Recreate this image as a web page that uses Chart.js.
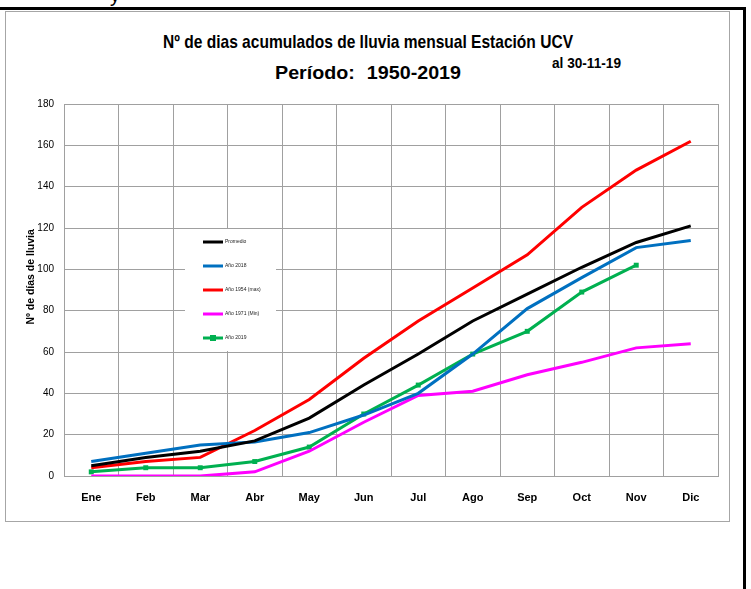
<!DOCTYPE html>
<html>
<head>
<meta charset="utf-8">
<script src="https://cdn.jsdelivr.net/npm/chart.js@4.4.1/dist/chart.umd.min.js"></script>
<style>
  html,body{margin:0;padding:0;background:#fff;}
  #wrap{position:relative;width:751px;height:589px;overflow:hidden;background:#fff;}
  #frame{position:absolute;left:5px;top:11px;width:723px;height:509px;border:1px solid #a6a6a6;}
  #topline{position:absolute;left:0;top:7px;width:746px;height:3px;background:#000;}
  #rightline{position:absolute;left:743px;top:7px;width:3px;height:582px;background:#000;}
  #frag{position:absolute;left:110px;top:-16px;font:20px "Liberation Sans",sans-serif;color:#000;}
  .t{position:absolute;font-family:"Liberation Sans",sans-serif;font-weight:bold;color:#000;white-space:nowrap;transform-origin:0 0;}
  #t1{top:31px;font-size:19px;}
  #t2{top:63px;font-size:18px;word-spacing:6px;}
  #t3{top:55px;font-size:14px;}
  canvas{position:absolute;left:0;top:0;}
</style>
</head>
<body>
<div id="wrap">
  <div id="frame"></div>
  <div id="topline"></div>
  <div id="rightline"></div>
  <div id="frag">y</div>
  <div class="t" id="t1">Nº de dias acumulados de lluvia mensual Estación UCV</div>
  <div class="t" id="t2">Período: 1950-2019</div>
  <div class="t" id="t3">al 30-11-19</div>
  <canvas id="c" width="751" height="589"></canvas>
</div>
<script>
const months = ["Ene","Feb","Mar","Abr","May","Jun","Jul","Ago","Sep","Oct","Nov","Dic"];
const promedio = [5, 9, 12, 17, 28, 44, 59, 75, 88, 101, 113, 121];
const ano2018 = [7, 11, 15, 16.5, 21, 29.5, 40, 59, 81, 96, 110.5, 114];
const ano1954 = [4, 7, 9, 22, 37, 57, 75, 91, 107, 130, 148, 162];
const ano1971 = [0, 0, 0, 2, 12, 26, 39, 41, 49, 55, 62, 64];
const ano2019 = [2, 4, 4, 7, 14, 30, 44, 59, 70, 89, 102];
const seriesNames = ["Promedio","Año 2018","Año 1954 (max)","Año 1971 (Min)","Año 2019"];
const yTicks = [0,20,40,60,80,100,120,140,160,180];

const FONT = '"Liberation Sans",Arial,sans-serif';

// fit title texts horizontally (Calibri-like condensed look)
function fitText(id, left, width) {
  const el = document.getElementById(id);
  const w = el.getBoundingClientRect().width;
  el.style.left = left + 'px';
  el.style.transform = 'scaleX(' + (width / w) + ')';
}
fitText('t1', 163, 410);
fitText('t2', 275, 186);
fitText('t3', 552, 69);

const legendPlugin = {
  id: 'boxLegend',
  afterDatasetsDraw(chart) {
    const ctx = chart.ctx;
    ctx.save();
    ctx.fillStyle = '#fff';
    ctx.fillRect(185, 229, 91, 122);
    chart.data.datasets.forEach((ds, i) => {
      const y = 242 + i * 24;
      ctx.strokeStyle = ds.borderColor;
      ctx.lineWidth = 3;
      ctx.beginPath();
      ctx.moveTo(203, y);
      ctx.lineTo(223, y);
      ctx.stroke();
      if (ds.pointRadius > 0) {
        ctx.fillStyle = ds.borderColor;
        ctx.fillRect(210, y - 3, 6, 6);
      }
      ctx.fillStyle = '#222';
      ctx.font = '5px ' + FONT;
      ctx.textBaseline = 'middle';
      ctx.fillText(ds.label, 225, y);
    });
    ctx.restore();
  }
};

new Chart(document.getElementById('c'), {
  type: 'line',
  data: {
    labels: months,
    datasets: [
      {label: seriesNames[0], data: promedio, borderColor: '#000000', backgroundColor: '#000000', borderWidth: 3, pointRadius: 0, tension: 0},
      {label: seriesNames[1], data: ano2018, borderColor: '#0070C0', backgroundColor: '#0070C0', borderWidth: 3, pointRadius: 0, tension: 0},
      {label: seriesNames[2], data: ano1954, borderColor: '#FF0000', backgroundColor: '#FF0000', borderWidth: 3, pointRadius: 0, tension: 0},
      {label: seriesNames[3], data: ano1971, borderColor: '#FF00FF', backgroundColor: '#FF00FF', borderWidth: 3, pointRadius: 0, tension: 0},
      {label: seriesNames[4], data: ano2019, borderColor: '#00B050', backgroundColor: '#00B050', borderWidth: 3, pointRadius: 3.5, pointStyle: 'rect', pointBorderWidth: 0, tension: 0}
    ]
  },
  options: {
    responsive: false,
    animation: false,
    events: [],
    layout: {padding: {left: 5, top: 104, right: 33, bottom: 68}},
    plugins: {legend: {display: false}, tooltip: {enabled: false}, title: {display: false}},
    scales: {
      x: {
        type: 'category',
        offset: true,
        grid: {offset: true, color: '#a0a0a0', lineWidth: 1, drawTicks: false},
        border: {display: true, color: '#a0a0a0', width: 1},
        ticks: {color: '#000', font: {family: FONT, size: 11, weight: 'bold'}, padding: 15, maxRotation: 0, autoSkip: false},
        afterFit(s) { s.height = 45; }
      },
      y: {
        min: 0, max: 180,
        afterBuildTicks(s) { s.ticks = yTicks.map(v => ({value: v})); },
        grid: {color: '#a0a0a0', lineWidth: 1, drawTicks: false},
        border: {display: true, color: '#a0a0a0', width: 1},
        ticks: {color: '#000', font: {family: FONT, size: 10}, padding: 10},
        title: {display: true, text: '         Nº de días de lluvia', color: '#000', font: {family: FONT, size: 10.5, weight: 'bold'}, padding: {top: 20, bottom: 0}},
        afterFit(s) { s.width = 59; }
      }
    }
  },
  plugins: [legendPlugin]
});
</script>
</body>
</html>
